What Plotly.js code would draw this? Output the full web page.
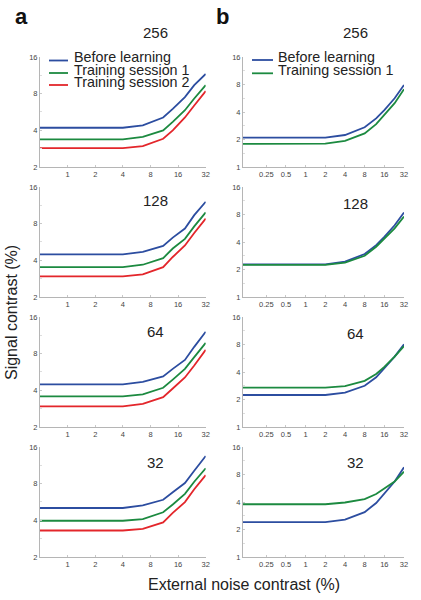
<!DOCTYPE html>
<html>
<head>
<meta charset="utf-8">
<script src="https://cdn.plot.ly/plotly-3.0.1.min.js"></script>
<style>html,body{margin:0;padding:0;background:#fff;}#chart{width:421px;height:600px;}</style>
</head>
<body>
<div id="chart"></div>
<script>
// ---- data ----
const panelTitles = ["256", "128", "64", "32"];
const seriesNamesA = ["Before learning", "Training session 1", "Training session 2"];
const seriesNamesB = ["Before learning", "Training session 1"];

// panel a: external noise contrast (%) (first point = zero noise, drawn at axis edge)
const noiseA = [0.5, 4, 6.6, 11, 14, 19, 24, 32];
const a256Before = [4.2, 4.2, 4.4, 5.1, 6.0, 7.5, 9.4, 11.6];
const a256S1     = [3.37, 3.37, 3.53, 4.0, 4.7, 5.85, 7.3, 9.4];
const a256S2     = [2.86, 2.86, 2.97, 3.41, 4.0, 5.1, 6.4, 8.4];
const a128Before = [4.47, 4.47, 4.7, 5.25, 6.15, 7.3, 9.4, 12.1];
const a128S1     = [3.52, 3.52, 3.68, 4.17, 5.0, 6.0, 7.6, 9.9];
const a128S2     = [2.95, 2.95, 3.07, 3.52, 4.26, 5.3, 6.7, 8.8];
const a64Before  = [4.47, 4.47, 4.7, 5.2, 6.0, 7.1, 9.1, 12.1];
const a64S1      = [3.57, 3.57, 3.7, 4.2, 4.9, 6.0, 7.5, 9.8];
const a64S2      = [2.95, 2.95, 3.1, 3.52, 4.14, 5.1, 6.4, 8.6];
const a32Before  = [5.05, 5.05, 5.3, 5.9, 6.8, 8.1, 10.2, 13.5];
const a32S1      = [3.97, 3.97, 4.1, 4.66, 5.4, 6.6, 8.3, 10.7];
const a32S2      = [3.3, 3.3, 3.4, 3.85, 4.6, 5.65, 7.2, 9.4];

// panel b
const noiseB = [0.11, 2, 4, 8, 12, 16, 23, 32];
const b256Before = [2.1, 2.1, 2.24, 2.72, 3.4, 4.2, 5.65, 7.9];
const b256S1     = [1.79, 1.8, 1.93, 2.33, 2.95, 3.7, 5.0, 7.1];
const b128Before = [2.28, 2.28, 2.44, 2.95, 3.7, 4.55, 6.1, 8.4];
const b128S1     = [2.25, 2.25, 2.38, 2.83, 3.55, 4.4, 5.65, 7.6];
const b64Before  = [2.24, 2.24, 2.38, 2.83, 3.5, 4.4, 5.9, 8.05];
const b64S1      = [2.7, 2.7, 2.8, 3.2, 3.8, 4.55, 5.9, 7.7];
const b32Before  = [2.41, 2.41, 2.56, 3.1, 3.9, 5.0, 6.7, 9.6];
const b32S1      = [3.78, 3.78, 3.95, 4.3, 4.9, 5.65, 6.7, 8.6];

// tick labels
const xTicksA = [1, 2, 4, 8, 16, 32];
const xTicksB = [0.25, 0.5, 1, 2, 4, 8, 16, 32];
const yTicksA = [2, 4, 8, 16];
const yTicksB = [1, 2, 4, 8, 16];
const yMinorA = [2.83, 5.66, 11.3];
const yMinorB = [1.41, 2.83, 5.66, 11.3];

// ---- styling ----
const W = 421, H = 600;
const colors = ["#2c4da0", "#1c8a40", "#e3262b"];
const FONT = "Liberation Sans, Arial, sans-serif";
const px = v => v / W;
const py = v => 1 - v / H;

const seriesA = [[a256Before, a256S1, a256S2], [a128Before, a128S1, a128S2],
                 [a64Before, a64S1, a64S2], [a32Before, a32S1, a32S2]];
const seriesB = [[b256Before, b256S1], [b128Before, b128S1],
                 [b64Before, b64S1], [b32Before, b32S1]];

const traces = [];
const layout = {
  width: W, height: H,
  margin: {l: 0, r: 0, t: 0, b: 0},
  paper_bgcolor: "#fff", plot_bgcolor: "rgba(0,0,0,0)",
  showlegend: false,
  font: {family: FONT, color: "#333"},
  annotations: [], shapes: []
};

function axisBase(extra) {
  return Object.assign({
    type: "log", showgrid: false, zeroline: false, showline: true,
    linecolor: "#b5b5b5", linewidth: 1, ticks: "inside", ticklen: 2,
    tickcolor: "#c8c8c8", tickfont: {size: 7.5, color: "#444", family: FONT},
    fixedrange: true
  }, extra);
}

const panelTops = [57, 187, 317, 447];
const panelH = 110;
const colA = [40, 205.7], colB = [243, 404];

for (let k = 0; k < 4; k++) {
  const yd = [py(panelTops[k] + panelH), py(panelTops[k])];
  const ia = k + 1, ib = k + 5;
  const xa = "x" + ia, ya = "y" + ia, xb = "x" + ib, yb = "y" + ib;
  layout["xaxis" + ia] = axisBase({domain: [px(colA[0]), px(colA[1])], anchor: ya,
    range: [Math.log10(0.5), Math.log10(32)], tickvals: xTicksA, ticktext: xTicksA.map(String)});
  layout["yaxis" + ia] = axisBase({domain: yd, anchor: xa,
    range: [Math.log10(2), Math.log10(16)], tickvals: yTicksA, ticktext: yTicksA.map(String),
    minor: {tickvals: yMinorA, ticks: "inside", ticklen: 2, tickcolor: "#dddddd"}});
  layout["xaxis" + ib] = axisBase({domain: [px(colB[0]), px(colB[1])], anchor: yb,
    range: [Math.log10(0.11), Math.log10(32)], tickvals: xTicksB, ticktext: xTicksB.map(String)});
  layout["yaxis" + ib] = axisBase({domain: yd, anchor: xb,
    range: [0, Math.log10(16)], tickvals: yTicksB, ticktext: yTicksB.map(String),
    minor: {tickvals: yMinorB, ticks: "inside", ticklen: 2, tickcolor: "#dddddd"}});

  seriesA[k].forEach((ys, s) => traces.push({
    type: "scatter", mode: "lines", x: noiseA, y: ys, xaxis: xa, yaxis: ya,
    name: seriesNamesA[s], line: {color: colors[s], width: 1.8}, hoverinfo: "skip"
  }));
  seriesB[k].forEach((ys, s) => traces.push({
    type: "scatter", mode: "lines", x: noiseB, y: ys, xaxis: xb, yaxis: yb,
    name: seriesNamesB[s], line: {color: colors[s], width: 1.8}, hoverinfo: "skip"
  }));
}

// panel titles
const titleYA = [32, 201, 331, 462];
const titleYB = [32, 203, 333, 463];
panelTitles.forEach((t, k) => {
  layout.annotations.push({text: t, xref: "paper", yref: "paper", x: px(155), y: py(titleYA[k]),
    showarrow: false, xanchor: "center", yanchor: "middle", font: {size: 15, color: "#222", family: FONT}});
  layout.annotations.push({text: t, xref: "paper", yref: "paper", x: px(355), y: py(titleYB[k]),
    showarrow: false, xanchor: "center", yanchor: "middle", font: {size: 15, color: "#222", family: FONT}});
});

// panel letters
[["a", 21], ["b", 222]].forEach(([t, x]) => layout.annotations.push({
  text: "<b>" + t + "</b>", xref: "paper", yref: "paper", x: px(x), y: py(17),
  showarrow: false, xanchor: "center", yanchor: "middle", font: {size: 22, color: "#111", family: FONT}}));

// legends (tightly stacked rows, as in the reference)
function legend(names, x0, x1, tx, textRows, lineRows) {
  names.forEach((n, i) => {
    layout.shapes.push({type: "line", xref: "paper", yref: "paper",
      x0: px(x0), x1: px(x1), y0: py(lineRows[i]), y1: py(lineRows[i]),
      line: {color: colors[i], width: 1.8}});
    layout.annotations.push({text: n, xref: "paper", yref: "paper", x: px(tx), y: py(textRows[i]),
      showarrow: false, xanchor: "left", yanchor: "middle", borderpad: 0,
      font: {size: 14.3, color: "#222", family: FONT}});
  });
}
legend(seriesNamesA, 49, 68, 73, [56.8, 69.8, 82.3], [60.5, 73, 85]);
legend(seriesNamesB, 252, 273, 276.5, [57, 70], [60, 73.3]);

// axis titles
layout.annotations.push({text: "Signal contrast (%)", xref: "paper", yref: "paper", x: px(12), y: py(313),
  showarrow: false, textangle: -90, xanchor: "center", yanchor: "middle", font: {size: 16, color: "#222", family: FONT}});
layout.annotations.push({text: "External noise contrast (%)", xref: "paper", yref: "paper", x: px(244), y: py(584),
  showarrow: false, xanchor: "center", yanchor: "middle", font: {size: 16, color: "#222", family: FONT}});

Plotly.newPlot("chart", traces, layout, {displayModeBar: false, staticPlot: true});
</script>
</body>
</html>
